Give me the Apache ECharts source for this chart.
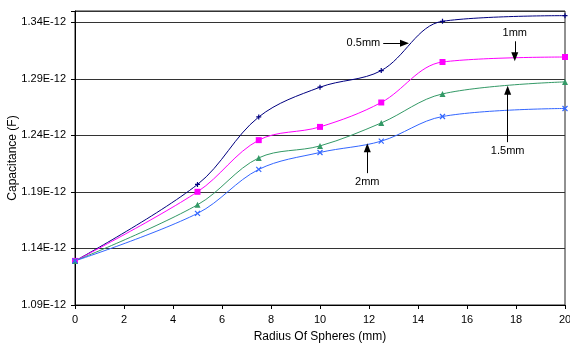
<!DOCTYPE html>
<html>
<head>
<meta charset="utf-8">
<script src="https://cdn.jsdelivr.net/npm/echarts@6/dist/echarts.min.js"></script>
<style>html,body{margin:0;padding:0;background:#fff;}#c{width:570px;height:347px;}</style>
</head>
<body>
<div id="c"></div>
<script>
// Radius of spheres (mm)
var radius = [0, 5, 7.5, 10, 12.5, 15, 20];
// Capacitance (F) per sphere separation
var cap_05mm = [1.129e-12, 1.1966e-12, 1.2563e-12, 1.2826e-12, 1.2973e-12, 1.3409e-12, 1.3459e-12];
var cap_1mm  = [1.129e-12, 1.1901e-12, 1.2358e-12, 1.2475e-12, 1.2691e-12, 1.3049e-12, 1.3093e-12];
var cap_15mm = [1.129e-12, 1.1786e-12, 1.2201e-12, 1.2307e-12, 1.2510e-12, 1.2767e-12, 1.2873e-12];
var cap_2mm  = [1.129e-12, 1.1710e-12, 1.2099e-12, 1.2249e-12, 1.2349e-12, 1.2567e-12, 1.2638e-12];
var seriesNames = ['0.5mm', '1mm', '1.5mm', '2mm'];
// y tick labels
var yTicks = ['1.09E-12', '1.14E-12', '1.19E-12', '1.24E-12', '1.29E-12', '1.34E-12'];
// annotation arrows [label, [x0, y0], [x1, y1]] (data units, F)
var annots = [
  ['0.5mm', [12.58, 1.3214e-12], [13.45, 1.3214e-12]],
  ['1mm',   [17.95, 1.3232e-12], [17.95, 1.3095e-12]],
  ['1.5mm', [17.66, 1.2340e-12], [17.66, 1.2800e-12]],
  ['2mm',   [11.93, 1.2066e-12], [11.93, 1.2290e-12]]
];

var S = 1e12; // plot in units of pF
function pts(arr) { return radius.map(function (x, i) { return [x, arr[i] * S]; }); }

var plus = 'path://M5,0L5,10M0,5L10,5';
var cross = 'path://M0,0L10,10M10,0L0,10';

var font = 'Liberation Sans, Arial, sans-serif';

function mkSeries(name, data, color, symbol, size, stroke) {
  return {
    name: name, type: 'line', data: pts(data), smooth: 0.35,
    lineStyle: { color: color, width: 1 },
    itemStyle: stroke ? { color: 'none', borderColor: color, borderWidth: 1.2 } : { color: color, borderWidth: 0 },
    symbol: symbol, symbolSize: size, showSymbol: true,
    z: 3, animation: false
  };
}

var series = [
  mkSeries(seriesNames[0], cap_05mm, '#000080', plus, 5, true),
  mkSeries(seriesNames[1], cap_1mm, '#FF00FF', 'rect', 6, false),
  mkSeries(seriesNames[2], cap_15mm, '#339966', 'triangle', 6, false),
  mkSeries(seriesNames[3], cap_2mm, '#3366FF', cross, 5, true)
];

series.push({
  type: 'line', data: [], animation: false, silent: true,
  markLine: {
    silent: true, animation: false,
    symbol: ['none', 'triangle'], symbolSize: [7, 9],
    lineStyle: { color: '#000', width: 1, type: 'solid' },
    label: { show: true, position: 'start', color: '#000', fontSize: 11, fontFamily: font, distance: 3 },
    data: annots.map(function (a) {
      return [
        { coord: [a[1][0], a[1][1] * S], name: a[0], label: { formatter: a[0] } },
        { coord: [a[2][0], a[2][1] * S] }
      ];
    })
  }
});

var chart = echarts.init(document.getElementById('c'), null, { renderer: 'canvas' });
chart.setOption({
  animation: false,
  backgroundColor: '#fff',
  grid: { left: 75, right: 5, top: 11, bottom: 42, containLabel: false, outerBoundsMode: 'none', show: true, borderColor: '#222', borderWidth: 1, backgroundColor: 'transparent' },
  xAxis: {
    type: 'value', min: 0, max: 20, interval: 2,
    name: 'Radius Of Spheres (mm)', nameLocation: 'middle', nameGap: 26, nameMoveOverlap: false,
    nameTextStyle: { fontSize: 12, fontFamily: font, color: '#000' },
    axisLine: { show: true, lineStyle: { color: '#000', width: 1 } },
    axisTick: { show: true, inside: false, length: 4, lineStyle: { color: '#000' } },
    axisLabel: { fontSize: 11, fontFamily: font, color: '#000', margin: 9 },
    splitLine: { show: false }
  },
  yAxis: {
    type: 'value', min: 1.09, max: 1.35, interval: 0.05,
    name: 'Capacitance (F)', nameLocation: 'middle', nameGap: 56, nameMoveOverlap: false,
    nameTextStyle: { fontSize: 12, fontFamily: font, color: '#000' },
    axisLine: { show: true, lineStyle: { color: '#000', width: 1 } },
    axisTick: { show: true, inside: false, length: 4, lineStyle: { color: '#000' } },
    axisLabel: {
      fontSize: 11, fontFamily: font, color: '#000', margin: 9,
      formatter: function (v) {
        var k = Math.round((v - 1.09) / 0.05);
        if (Math.abs(1.09 + k * 0.05 - v) < 1e-6 && k >= 0 && k < yTicks.length) return yTicks[k];
        return '';
      }
    },
    splitLine: { show: true, lineStyle: { color: '#333', width: 1 } }
  },
  series: series
});
</script>
</body>
</html>
